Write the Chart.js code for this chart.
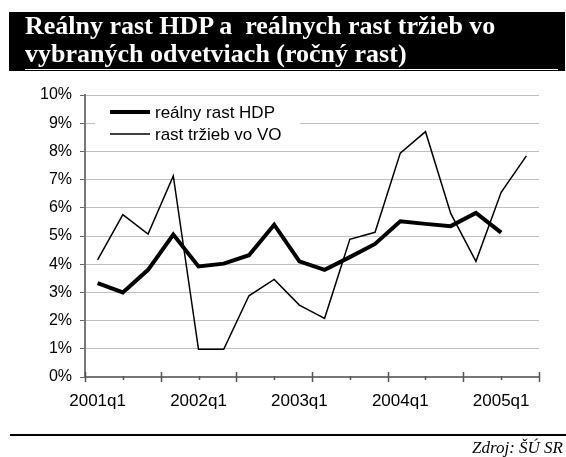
<!DOCTYPE html>
<html>
<head>
<meta charset="utf-8">
<script src="https://cdn.jsdelivr.net/npm/chart.js@4"></script>
<style>
  body { margin: 0; background: #fff; }
  #wrap { position: relative; width: 566px; height: 457px; overflow: hidden; }
  #chart { position: absolute; left: 0; top: 0; }
  #title {
    position: absolute; left: 9px; top: 12px; width: 540px; height: 59px;
    padding: 0 0 0 16px; background: #000; color: #fff;
    font: bold 26px "Liberation Serif", serif; line-height: 28px; white-space: nowrap;
  }
  #title-gap { position: absolute; left: 25px; top: 69px; width: 533px; height: 1px; background: #fff; }
  #rule { position: absolute; left: 10px; top: 434px; width: 556px; height: 2px; background: #000; }
  #source {
    position: absolute; right: 3px; top: 440px;
    font: italic 17px "Liberation Serif", serif; line-height: 16px; color: #000;
  }
</style>
</head>
<body>
<div id="wrap">
  <canvas id="chart" width="566" height="457"></canvas>
  <div id="title">Reálny rast HDP a&nbsp; reálnych rast tržieb vo<br>vybraných odvetviach (ročný rast)</div>
  <div id="title-gap"></div>
  <div id="rule"></div>
  <div id="source">Zdroj: ŠÚ SR</div>
</div>
<script>
const quarters = [
    "2001q1", "2001q2", "2001q3", "2001q4",
    "2002q1", "2002q2", "2002q3", "2002q4",
    "2003q1", "2003q2", "2003q3", "2003q4",
    "2004q1", "2004q2", "2004q3", "2004q4",
    "2005q1", "2005q2"
];
const hdp = [3.33, 3.0, 3.8, 5.05, 3.92, 4.02, 4.32, 5.4, 4.1, 3.8, 4.25, 4.72, 5.52, 5.43, 5.35, 5.82, 5.12, null];
const trzby = [4.15, 5.76, 5.07, 7.13, 0.98, 0.98, 2.88, 3.46, 2.55, 2.08, 4.88, 5.13, 7.94, 8.7, 5.8, 4.1, 6.55, 7.84];
const seriesNames = ["reálny rast HDP", "rast tržieb vo VO"];
const yMin = 0, yMax = 10, yStep = 1;

// tick marks on the x axis: every 1.5 categories, alternating long/short
const xTickMarks = {
    id: "xTickMarks",
    afterDraw(chart) {
        const xs = chart.scales.x;
        const ctx = chart.ctx;
        const axisY = chart.chartArea.bottom;
        const step = (xs.right - xs.left) / quarters.length * 1.5;
        const n = Math.round(quarters.length / 1.5);
        ctx.save();
        ctx.strokeStyle = "#555";
        ctx.lineWidth = 1.5;
        for (let k = 0; k <= n; k++) {
            const x = Math.round(xs.left + k * step) + 0.5;
            const major = k % 2 === 0;
            ctx.beginPath();
            ctx.moveTo(x, axisY + (major ? -5 : -1));
            ctx.lineTo(x, axisY + (major ? 5 : 3));
            ctx.stroke();
        }
        ctx.restore();
    }
};

// legend box inside the plot area, top-left
const boxLegend = {
    id: "boxLegend",
    beforeDatasetsDraw(chart) {
        const ca = chart.chartArea;
        const ctx = chart.ctx;
        ctx.save();
        ctx.fillStyle = "#fff";
        ctx.fillRect(ca.left + 10, ca.top + 5, 205, 46);
        ctx.font = "17px 'Liberation Sans', Arial, sans-serif";
        ctx.textBaseline = "middle";
        chart.data.datasets.forEach((ds, i) => {
            const y = ca.top + 17 + i * 22;
            ctx.strokeStyle = ds.borderColor;
            ctx.lineWidth = ds.borderWidth;
            ctx.beginPath();
            ctx.moveTo(ca.left + 25, y);
            ctx.lineTo(ca.left + 65, y);
            ctx.stroke();
            ctx.fillStyle = "#000";
            ctx.fillText(ds.label, ca.left + 70, y + 1);
        });
        ctx.restore();
    }
};

new Chart(document.getElementById("chart"), {
    type: "line",
    data: {
        labels: quarters,
        datasets: [
            {
                label: seriesNames[0],
                data: hdp,
                borderColor: "#000",
                borderWidth: 4,
                pointRadius: 0,
                tension: 0,
                fill: false,
            },
            {
                label: seriesNames[1],
                data: trzby,
                borderColor: "#000",
                borderWidth: 1.5,
                pointRadius: 0,
                tension: 0,
                fill: false,
            }
        ]
    },
    options: {
        responsive: false,
        animation: false,
        layout: { padding: { top: 95, right: 27, left: 0, bottom: 0 } },
        plugins: {
            legend: { display: false },
            tooltip: { enabled: false }
        },
        scales: {
            x: {
                type: "category",
                offset: true,
                grid: { display: true, drawOnChartArea: false, drawTicks: false },
                border: { color: "#777", width: 2 },
                ticks: {
                    autoSkip: false,
                    maxRotation: 0,
                    padding: 14,
                    color: "#000",
                    font: { family: "'Liberation Sans', Arial, sans-serif", size: 17 },
                    callback: (v, i) => (i % 4 === 0 ? quarters[i] : "")
                },
                afterFit: s => { s.height = 80; }
            },
            y: {
                min: yMin,
                max: yMax,
                grid: { color: "#c0c0c0", lineWidth: 1, tickLength: 5, tickColor: "#666" },
                border: { color: "#777", width: 2 },
                ticks: {
                    stepSize: yStep,
                    padding: 8,
                    color: "#000",
                    font: { family: "'Liberation Sans', Arial, sans-serif", size: 16 },
                    callback: v => v + "%"
                },
                afterFit: s => { s.width = 85; }
            }
        }
    },
    plugins: [xTickMarks, boxLegend]
});
</script>
</body>
</html>
